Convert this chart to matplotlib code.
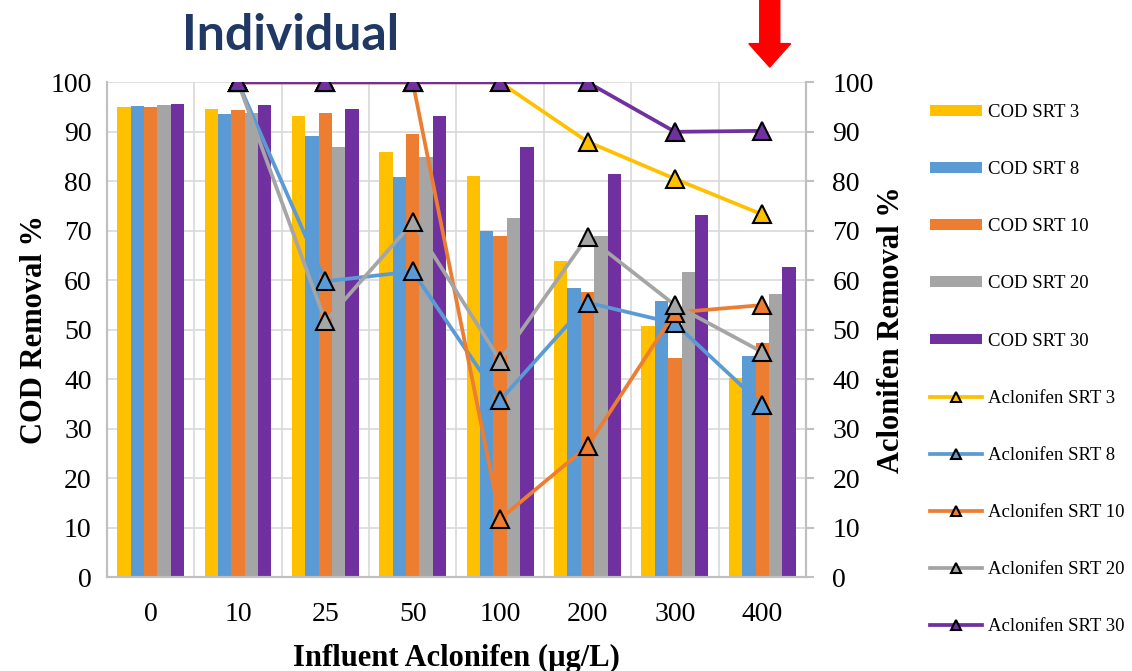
import matplotlib
matplotlib.use('Agg')
import matplotlib.pyplot as plt
from matplotlib.patches import FancyArrow
import numpy as np

plt.rcParams['font.family'] = ['Liberation Serif', 'DejaVu Serif']

# influent concentrations (ug/L)
influent = ['0', '10', '25', '50', '100', '200', '300', '400']
srt_labels = ['SRT 3', 'SRT 8', 'SRT 10', 'SRT 20', 'SRT 30']
colors = ['#FFC000', '#5B9BD5', '#ED7D31', '#A5A5A5', '#7030A0']

# COD removal % (bars)
cod_srt3 = [95.0, 94.7, 93.2, 85.9, 81.1, 63.9, 50.8, 40.3]
cod_srt8 = [95.2, 93.6, 89.1, 80.8, 69.9, 58.5, 55.8, 44.7]
cod_srt10 = [95.0, 94.5, 93.9, 89.6, 68.9, 57.6, 44.3, 47.3]
cod_srt20 = [95.4, 93.9, 87.0, 84.9, 72.6, 68.9, 61.7, 57.3]
cod_srt30 = [95.6, 95.4, 94.7, 93.2, 87.0, 81.5, 73.1, 62.7]

# Aclonifen removal % (lines), measured from 10 ug/L onward
acl_influent = ['10', '25', '50', '100', '200', '300', '400']
acl_srt3 = [100, 100, 100, 100, 88.0, 80.5, 73.3]
acl_srt8 = [100, 59.8, 61.8, 35.8, 55.5, 51.3, 34.8]
acl_srt10 = [100, 100, 100, 11.8, 26.5, 53.5, 55.0]
acl_srt20 = [100, 51.7, 71.7, 43.8, 68.8, 55.0, 45.5]
acl_srt30 = [100, 100, 100, 100, 100, 90.0, 90.2]

cod = [cod_srt3, cod_srt8, cod_srt10, cod_srt20, cod_srt30]
acl = [acl_srt3, acl_srt8, acl_srt10, acl_srt20, acl_srt30]

fig = plt.figure(figsize=(11.32, 6.71), dpi=100)
ax = fig.add_axes([0.0945, 0.1396, 0.6175, 0.7377])
ax2 = ax.twinx()

x = np.arange(len(influent))
w = 0.153
for i, (vals, c, lab) in enumerate(zip(cod, colors, srt_labels)):
    ax.bar(x + (i - 2) * w, vals, width=w, color=c, label='COD ' + lab, zorder=2)

xa = np.array([influent.index(v) for v in acl_influent])
for vals, c, lab in zip(acl, colors, srt_labels):
    ax2.plot(xa, vals, color=c, lw=2.7, marker='^', markersize=13,
             markerfacecolor=c, markeredgecolor='black', markeredgewidth=1.5,
             label='Aclonifen ' + lab)

grid_c = '#D9D9D9'
spine_c = '#BFBFBF'
ax.set_xlim(-0.5, len(influent) - 0.5)
ax.set_ylim(0, 100)
ax2.set_ylim(0, 100)
ax.set_yticks(range(0, 101, 10))
ax2.set_yticks(range(0, 101, 10))
ax.set_xticks(x)
ax.set_xticklabels(influent)
ax.set_xticks(x[:-1] + 0.5, minor=True)
ax.grid(axis='y', color=grid_c, lw=1.2, zorder=0)
ax.grid(axis='x', which='minor', color=grid_c, lw=1.2, zorder=0)
ax.set_axisbelow(True)

for a in (ax, ax2):
    for s in a.spines.values():
        s.set_color(spine_c)
        s.set_linewidth(1.5)
    a.spines['top'].set_visible(False)
ax.tick_params(axis='y', length=0, pad=11, labelsize=20)
ax.tick_params(axis='x', which='both', length=0, pad=18, labelsize=20)
ax2.tick_params(axis='y', length=6, width=1.5, color=spine_c, pad=13, labelsize=20)

ax.set_ylabel('COD Removal %', fontsize=22, fontweight='bold', labelpad=1)
ax2.set_ylabel('Aclonifen Removal %', fontsize=22, fontweight='bold', labelpad=2)
ax.set_xlabel('Influent Aclonifen (\u00b5g/L)', fontsize=22, fontweight='bold', labelpad=12)

h1, l1 = ax.get_legend_handles_labels()
h2, l2 = ax2.get_legend_handles_labels()
fig.legend(h1 + h2, l1 + l2, loc='upper left', bbox_to_anchor=(0.8216, 0.845),
           frameon=False, fontsize=13.5, labelspacing=2.14, handlelength=2.75,
           handleheight=0.5, handletextpad=0.35, borderpad=0, borderaxespad=0,
           markerscale=0.6)

fig.text(0.161, 0.925, 'Individual', fontsize=36, fontweight='bold',
         family='Lato', color='#1F3864', va='baseline')

fig.add_artist(FancyArrow(0.680, 1.0, 0, -0.1, width=0.0177, head_width=0.037,
                          head_length=0.035, length_includes_head=True,
                          color='#FF0000', transform=fig.transFigure))

fig.savefig('out.png', dpi=100)
